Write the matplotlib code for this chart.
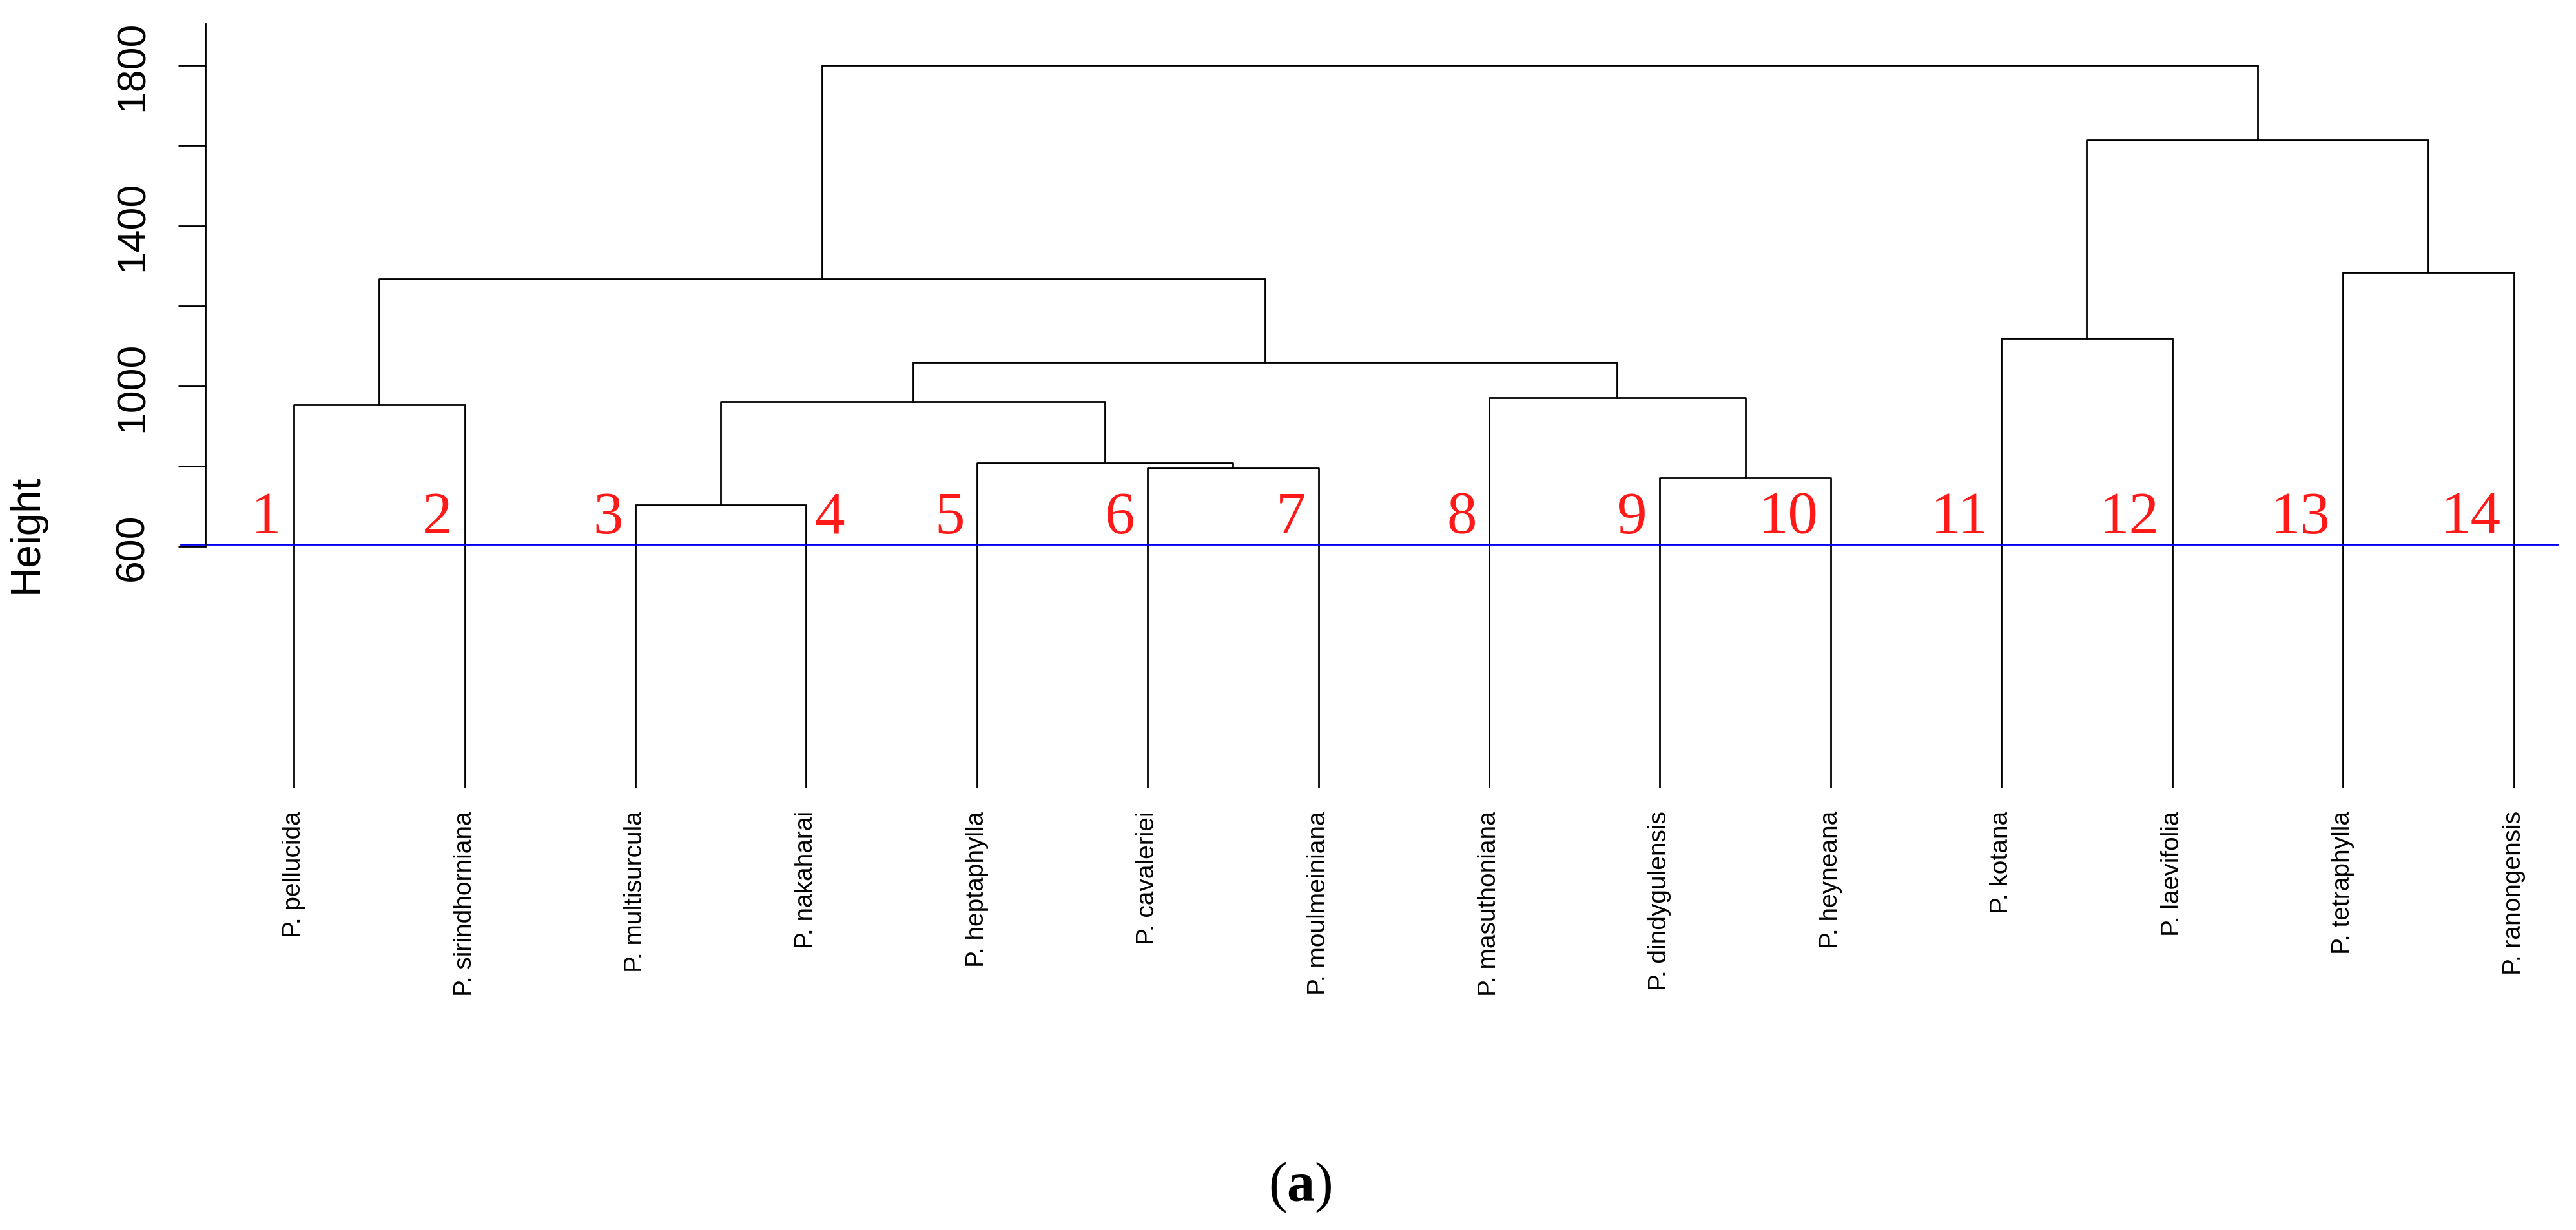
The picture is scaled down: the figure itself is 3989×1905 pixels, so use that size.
import matplotlib
matplotlib.use("Agg")
import matplotlib.pyplot as plt
import numpy as np

plt.rcParams['font.family'] = ['Liberation Sans', 'DejaVu Sans']
plt.rcParams['mathtext.fontset'] = 'custom'
plt.rcParams['mathtext.rm'] = 'Liberation Serif'
plt.rcParams['mathtext.bf'] = 'Liberation Serif:bold'

# leaves in plotting order
species = ["P. pellucida", "P. sirindhorniana", "P. multisurcula", "P. nakaharai",
           "P. heptaphylla", "P. cavaleriei", "P. moulmeiniana", "P. masuthoniana",
           "P. dindygulensis", "P. heyneana", "P. kotana", "P. laevifolia",
           "P. tetraphylla", "P. ranongensis"]
leaf_numbers = [str(i) for i in range(1, 15)]

# merges: ids < 14 are leaves, id 14 + k is the k-th merge
merge_a = [2, 5, 8, 4, 0, 14, 7, 19, 10, 18, 12, 22, 23]
merge_b = [3, 6, 9, 15, 1, 17, 16, 20, 11, 21, 13, 24, 25]
merge_h = [703, 795, 772, 809, 953, 961, 971, 1060, 1120, 1267, 1283, 1613, 1800]

cut_height = 605
y_ticks = [600, 800, 1000, 1200, 1400, 1600, 1800]
y_ticklabels = ["600", "", "1000", "", "1400", "", "1800"]

n = len(species)
fig = plt.figure(figsize=(39.89, 19.06), dpi=100)
ax = fig.add_axes([0.0677, 0.3599, 0.9280, 0.6288])

node_x = list(np.arange(1, n + 1, dtype=float))
node_h = [0.0] * n
for a, b, h in zip(merge_a, merge_b, merge_h):
    xa, xb = node_x[a], node_x[b]
    ax.plot([xa, xa, xb, xb], [node_h[a], h, h, node_h[b]],
            color='black', lw=2.0, solid_capstyle='projecting', clip_on=False)
    node_x.append((xa + xb) / 2)
    node_h.append(h)

# cut line
ax.plot([0.338, 14.26], [cut_height, cut_height], color='#0000EE', lw=2.0, clip_on=False)

# species names under leaves
for i, name in enumerate(species):
    ax.annotate(name, (i + 1, 0), xytext=(0, -26), textcoords='offset points',
                rotation=90, ha='center', va='top', fontsize=28, annotation_clip=False)

# red cluster numbers
for i, lab in enumerate(leaf_numbers):
    if lab == "4":
        off, ha = 9, 'left'
    else:
        off, ha = -14, 'right'
    ax.annotate(lab, (i + 1, 635), xytext=(off, 0), textcoords='offset points',
                ha=ha, va='baseline', fontsize=67, color='#FF1A1A',
                family='Liberation Serif', annotation_clip=False)

ax.set_xlim(0.3, 14.3)
ax.set_ylim(0, 1930)
for s in ['top', 'right', 'bottom']:
    ax.spines[s].set_visible(False)
ax.spines['left'].set_position(('data', 0.482))
ax.spines['left'].set_bounds(600, 1904)
ax.spines['left'].set_linewidth(2.0)
ax.set_xticks([])
ax.set_yticks(y_ticks)
ax.set_yticklabels(y_ticklabels, rotation=90, va='center')
ax.tick_params(axis='y', direction='out', length=30, width=2.0, pad=30, labelsize=45)

fig.text(41 / 3989, 1 - 827 / 1906, "Height", rotation=90, ha='center', va='center',
         fontsize=46)
fig.text(0.5046, 1 - 1860 / 1906, r"($\mathbf{a}$)", ha='center', va='baseline',
         fontsize=62, family='Liberation Serif')

fig.savefig("out.png", dpi=100, facecolor='white')
